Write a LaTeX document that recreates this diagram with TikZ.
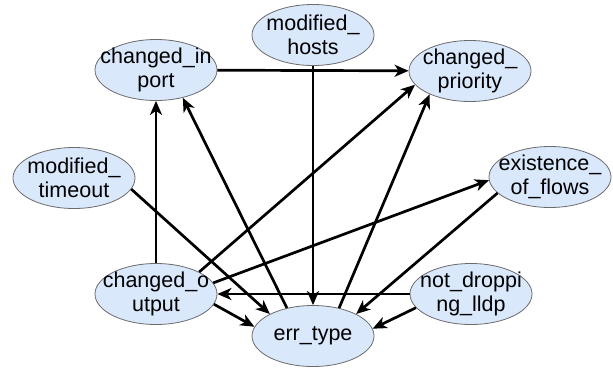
\documentclass[tikz,border=0pt]{standalone}
\usepackage{fontspec}
\setmainfont{Liberation Sans}
\usetikzlibrary{shapes.geometric,arrows.meta}
\definecolor{nodefill}{HTML}{DAE8FC}
\definecolor{nodeline}{HTML}{6B6B6B}
\begin{document}
\begin{tikzpicture}[x=1pt,y=-1pt,
  state/.style={ellipse,draw=nodeline,line width=0.8pt,fill=nodefill,minimum width=122pt,minimum height=61pt,inner xsep=-25pt,inner ysep=-12pt,align=center,font=\fontsize{21.5}{24}\selectfont},
  edge/.style={line width=2.7pt,-{Stealth[length=14pt,width=12pt,inset=4pt]}}]
\useasboundingbox (0,0) rectangle (613,370);
\node[state] (cin) at (156,70) {changed\_in\\port};
\node[state] (mh) at (313,35) {modified\_\\hosts};
\node[state] (cp) at (470,71) {changed\_\\priority};
\node[state] (mt) at (74,178) {modified\_\\timeout};
\node[state] (ef) at (550,177) {existence\_\\of\_flows};
\node[state] (co) at (156,294) {changed\_o\\utput};
\node[state] (nd) at (471,294) {not\_droppi\\ng\_lldp};
\node[state] (et) at (313,336) {err\_type};
\draw[edge] (cin) -- (cp);
\draw[edge] (mh) -- (et);
\draw[edge] (co) -- (cin);
\draw[edge] (et.133) -- (cin.314);
\draw[edge] (co.27) -- (cp.194);
\draw[edge] (et.47) -- (cp.210);
\draw[edge] (mt.349) -- (et.153);
\draw[edge] (co.11) -- (ef.183);
\draw[edge] (ef.197) -- (et.27);
\draw[edge] (nd) -- (co);
\draw[edge] (co.350) -- (et.171);
\draw[edge] (nd.194) -- (et.7);
\end{tikzpicture}
\end{document}
